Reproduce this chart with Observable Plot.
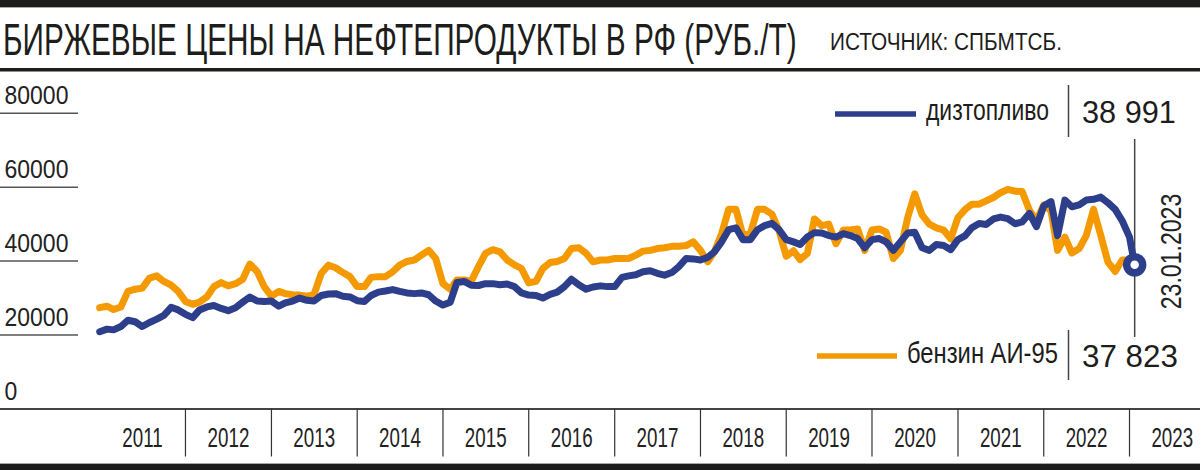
<!DOCTYPE html>
<html><head><meta charset="utf-8">
<script src="https://cdn.jsdelivr.net/npm/d3@7"></script>
<script src="https://cdn.jsdelivr.net/npm/@observablehq/plot@0.6"></script>
<style>
html,body{margin:0;padding:0;background:#fff;}
#wrap{position:relative;width:1200px;height:470px;overflow:hidden;font-family:"Liberation Sans",Arial,sans-serif;}
#chart{position:absolute;left:0;top:73px;}
#overlay{position:absolute;left:0;top:0;pointer-events:none;}
</style></head><body>
<div id="wrap"><div id="chart"></div><svg id="overlay" width="1200" height="470"></svg></div>
<script>
// ---------- DATA ----------
const titleText = "БИРЖЕВЫЕ ЦЕНЫ НА НЕФТЕПРОДУКТЫ В РФ (РУБ./Т)";
const sourceText = "ИСТОЧНИК: СПБМТСБ.";
const seriesNames = ["дизтопливо", "бензин АИ-95"];
const lastLabels = ["38 991", "37 823"];
const dateLabel = "23.01.2023";
const lastDate = "2023-01-23";
const startMonth = "2011-01-01";
const years = [2011, 2012, 2013, 2014, 2015, 2016, 2017, 2018, 2019, 2020, 2021, 2022, 2023];
const yUnderlineTicks = [20000, 40000, 60000, 80000];
const yLabelTicks = [0, 20000, 40000, 60000, 80000];

// monthly values (1st of each month), Jan 2011 .. Jan 2023
const dieselValues = [
  20900, 21600, 21400, 22300, 24000, 23600, 22300, 23400, 24300, 25300, 27500, 26800,
  25600, 24700, 26800, 27600, 28000, 27200, 26600, 27400, 28900, 30300, 29200, 29100,
  29200, 27800, 28700, 29200, 30000, 29400, 29200, 30700, 31100, 31200, 30500, 30300,
  29300, 29100, 30700, 31600, 31900, 32300, 31800, 31400, 31200, 31400, 30900, 29200,
  28100, 28900, 34200, 34500, 33500, 33400, 33900, 33900, 33600, 33800, 33100, 31400,
  30800, 30700, 30000, 31000, 31600, 33100, 35100, 33600, 32400, 33000, 33300, 33100,
  33100, 35600, 36000, 36300, 37100, 37400, 36700, 36200, 36900, 38500, 40700, 40600,
  40300, 41000, 42500, 45200, 48500, 49000, 45800, 45800, 48500, 49600, 50200, 48500,
  45800, 45200, 44500, 46500, 47700, 47600, 46900, 46500, 47400, 46900, 46100, 43600,
  45800, 46100, 45200, 42900, 45200, 47600, 47800, 43600, 42900, 44500, 44200, 43100,
  45800, 46900, 49000, 50200, 49900, 51400, 51900, 51500, 50100, 50600, 52900, 49300,
  54900, 56100, 46900, 56500, 54700, 55200, 56500, 56700, 57300, 55800, 54000, 50900,
  46500
];
const petrolValues = [
  27400, 27800, 26900, 27600, 31800, 32400, 32700, 35400, 36000, 34500, 33500, 31800,
  29100, 28300, 28900, 30300, 33100, 34200, 33300, 33900, 35100, 39200, 37200, 33100,
  30500, 31800, 31200, 30900, 30800, 30500, 30900, 36700, 38900, 38200, 36900, 35800,
  33100, 33100, 35600, 35800, 35800, 37100, 38900, 39900, 40300, 41600, 42900, 40700,
  33900, 32400, 34900, 34900, 34500, 38500, 42100, 43100, 42500, 40300, 39000, 38000,
  34100, 34500, 38000, 39600, 39900, 40700, 43400, 43600, 42100, 39800, 40300, 40300,
  40700, 40700, 40700, 41600, 42700, 42900, 43400, 43600, 44000, 44000, 44200, 45200,
  42900, 39800, 42500, 47400, 54000, 54000, 46900, 47400, 54000, 54000, 52700, 48300,
  41300, 42800, 40400, 42100, 51400, 49600, 50000, 44700, 48400, 48400, 48700, 42900,
  48400, 48700, 47800, 40700, 42900, 51800, 58200, 52500, 50000, 49000, 48400, 46000,
  51800, 54000, 55400, 55400, 56300, 57200, 58500, 59400, 58900, 58800, 53800, 50900,
  55200, 53600, 42900, 46500, 42200, 43400, 46900, 54000, 46900, 39800, 37200, 40300,
  40300
];
const lastDiesel = 38991;
const lastPetrol = 37823;

// ---------- BUILD ----------
const BLUE = "#2d3f8b", ORANGE = "#f49a00", INK = "#1d1d1b";
const FONT = '"Liberation Sans", Arial, sans-serif';
const start = new Date(startMonth + "T00:00:00Z");
const end = new Date(lastDate + "T00:00:00Z");
const monthOf = i => d3.utcMonth.offset(start, i);
const diesel = dieselValues.map((v, i) => ({date: monthOf(i), value: v})).concat([{date: end, value: lastDiesel}]);
const petrol = petrolValues.map((v, i) => ({date: monthOf(i), value: v})).concat([{date: end, value: lastPetrol}]);
const yearStarts = years.map(y => new Date(Date.UTC(y, 0, 1)));
const dividers = yearStarts.slice(1);
const mids = years.map(y => new Date(Date.UTC(y, 6, 2)));

const H = 391, MB = 55.5, MT = 39.7;
const chart = Plot.plot({
  width: 1200, height: H,
  marginLeft: 78, marginRight: 0, marginTop: MT, marginBottom: MB,
  style: {fontFamily: FONT, background: "white", color: "#222", overflow: "visible"},
  x: {type: "utc", domain: [yearStarts[0], yearStarts[12]], range: [99.2, 1129], label: null},
  y: {domain: [0, 80000], range: [H - MB, MT], label: null},
  marks: [
    Plot.axisY(yUnderlineTicks, {anchor: "left", tickSize: 78, tickFormat: () => "", stroke: "#555", strokeWidth: 1.5}),
    Plot.axisY(yLabelTicks, {anchor: "left", tickSize: 0, tickPadding: 0, dx: -74, dy: -17, textAnchor: "start", fontSize: 25, fill: "#222", tickFormat: d => String(d)}),
    Plot.ruleY([0], {insetLeft: -78, stroke: "#444", strokeWidth: 2}),
    Plot.axisX(dividers, {anchor: "bottom", tickSize: 48, tickFormat: () => "", stroke: "#333", strokeWidth: 1.2}),
    Plot.axisX(mids, {anchor: "bottom", tickSize: 0, tickPadding: 18, fontSize: 28, fill: "#222", tickFormat: d => String(d.getUTCFullYear())}),
    Plot.ruleX([end], {stroke: "#444", strokeWidth: 1.5, insetTop: 26.3, insetBottom: 71.5}),
    Plot.line(petrol, {x: "date", y: "value", stroke: ORANGE, strokeWidth: 7, strokeLinejoin: "round", strokeLinecap: "round"}),
    Plot.line(diesel, {x: "date", y: "value", stroke: BLUE, strokeWidth: 7, strokeLinejoin: "round", strokeLinecap: "round"}),
    Plot.dot([diesel[diesel.length - 1]], {x: "date", y: "value", r: 8, stroke: BLUE, strokeWidth: 7.5, fill: "white"}),
    Plot.text([end], {x: d => d, text: () => dateLabel, frameAnchor: "middle", rotate: -90, dx: 37, dy: -9.6, fontSize: 30, fill: "#222"})
  ]
});
document.getElementById("chart").appendChild(chart);

// condense text horizontally (narrow typeface look) with a real transform;
// the vertical em offsets Plot puts in the y attribute are kept as they are
function condenseAll(nodes, factor) {
  nodes.forEach(t => {
    if (t.getComputedTextLength() > 0) {
      const tr = t.getAttribute("transform") || "";
      t.setAttribute("transform", `${tr} scale(${factor},1)`);
    }
  });
}
condenseAll(chart.querySelectorAll('g[aria-label="y-axis tick label"] text'), 0.92);
condenseAll(chart.querySelectorAll('g[aria-label="x-axis tick label"] text'), 0.67);
condenseAll(chart.querySelectorAll('g[aria-label="text"] text'), 0.77);

// ---------- HEADER / LEGEND OVERLAY ----------
const ov = d3.select("#overlay").style("font-family", FONT);
ov.append("rect").attr("x", 0).attr("y", 0).attr("width", 1200).attr("height", 7).attr("fill", INK);
ov.append("rect").attr("x", 0).attr("y", 7).attr("width", 1200).attr("height", 1).attr("fill", "#aaa");
ov.append("rect").attr("x", 0).attr("y", 68).attr("width", 1200).attr("height", 3.5).attr("fill", INK);
ov.append("rect").attr("x", 0).attr("y", 464).attr("width", 1200).attr("height", 6).attr("fill", INK);
ov.append("rect").attr("x", 0).attr("y", 463).attr("width", 1200).attr("height", 1).attr("fill", "#aaa");

function txt(s, x, y, size, len) {
  const t = ov.append("text").attr("x", 0).attr("y", 0).attr("font-size", size).attr("fill", INK).text(s);
  const w = t.node().getComputedTextLength();
  t.attr("transform", `translate(${x},${y}) scale(${(len / w).toFixed(4)},1)`);
  return t;
}
txt(titleText, 3, 55, 45, 794);
txt(sourceText, 830, 50, 24, 232);

// legend: diesel
ov.append("line").attr("x1", 835).attr("x2", 916).attr("y1", 114).attr("y2", 114).attr("stroke", BLUE).attr("stroke-width", 5.5);
txt(seriesNames[0], 926, 120, 30, 123);
ov.append("line").attr("x1", 1068.5).attr("x2", 1068.5).attr("y1", 85).attr("y2", 137).attr("stroke", "#444").attr("stroke-width", 1.5);
txt(lastLabels[0], 1082, 123, 32, 94);
// legend: petrol
ov.append("line").attr("x1", 817).attr("x2", 897).attr("y1", 356).attr("y2", 356).attr("stroke", ORANGE).attr("stroke-width", 5.5);
txt(seriesNames[1], 907, 363, 30, 151);
ov.append("line").attr("x1", 1068.5).attr("x2", 1068.5).attr("y1", 330).attr("y2", 380).attr("stroke", "#444").attr("stroke-width", 1.5);
txt(lastLabels[1], 1082, 367, 32, 96);
</script>
</body></html>
